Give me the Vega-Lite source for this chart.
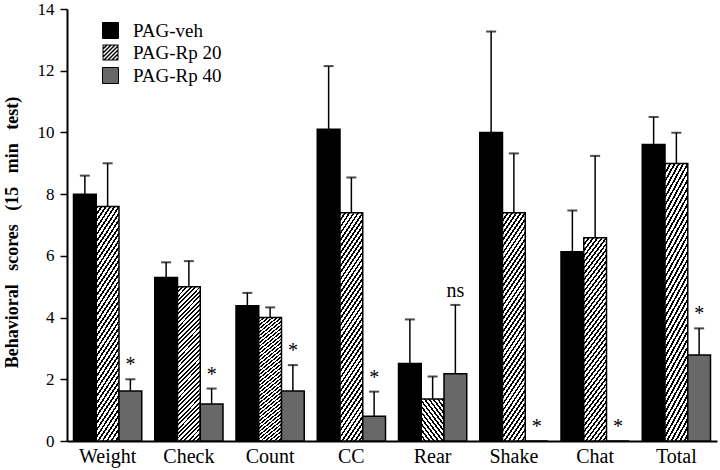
{
  "$schema": "https://vega.github.io/schema/vega-lite/v6.json",
  "width": 650,
  "height": 432,
  "autosize": {"type": "none"},
  "padding": {"left": 67, "top": 9, "right": 3, "bottom": 29},
  "background": "white",
  "config": {"font": "Liberation Serif", "view": {"stroke": null}},
  "data": {
    "values": [
      {"cat": "Weight", "group": "PAG-veh", "value": 8.0, "err": 8.6, "label": ""},
      {"cat": "Weight", "group": "PAG-Rp 20", "value": 7.6, "err": 9.0, "label": ""},
      {"cat": "Weight", "group": "PAG-Rp 40", "value": 1.62, "err": 2.0, "label": "*"},
      {"cat": "Check", "group": "PAG-veh", "value": 5.3, "err": 5.79, "label": ""},
      {"cat": "Check", "group": "PAG-Rp 20", "value": 5.0, "err": 5.83, "label": ""},
      {"cat": "Check", "group": "PAG-Rp 40", "value": 1.2, "err": 1.7, "label": "*"},
      {"cat": "Count", "group": "PAG-veh", "value": 4.38, "err": 4.8, "label": ""},
      {"cat": "Count", "group": "PAG-Rp 20", "value": 4.0, "err": 4.33, "label": ""},
      {"cat": "Count", "group": "PAG-Rp 40", "value": 1.62, "err": 2.46, "label": "*"},
      {"cat": "CC", "group": "PAG-veh", "value": 10.1, "err": 12.15, "label": ""},
      {"cat": "CC", "group": "PAG-Rp 20", "value": 7.4, "err": 8.54, "label": ""},
      {"cat": "CC", "group": "PAG-Rp 40", "value": 0.8, "err": 1.6, "label": "*"},
      {"cat": "Rear", "group": "PAG-veh", "value": 2.51, "err": 3.94, "label": ""},
      {"cat": "Rear", "group": "PAG-Rp 20", "value": 1.36, "err": 2.09, "label": ""},
      {"cat": "Rear", "group": "PAG-Rp 40", "value": 2.18, "err": 4.41, "label": "ns"},
      {"cat": "Shake", "group": "PAG-veh", "value": 10.0, "err": 13.27, "label": ""},
      {"cat": "Shake", "group": "PAG-Rp 20", "value": 7.4, "err": 9.32, "label": ""},
      {"cat": "Shake", "group": "PAG-Rp 40", "value": 0, "err": 0, "label": "*"},
      {"cat": "Chat", "group": "PAG-veh", "value": 6.13, "err": 7.47, "label": ""},
      {"cat": "Chat", "group": "PAG-Rp 20", "value": 6.59, "err": 9.24, "label": ""},
      {"cat": "Chat", "group": "PAG-Rp 40", "value": 0, "err": 0, "label": "*"},
      {"cat": "Total", "group": "PAG-veh", "value": 9.61, "err": 10.5, "label": ""},
      {"cat": "Total", "group": "PAG-Rp 20", "value": 8.99, "err": 9.99, "label": ""},
      {"cat": "Total", "group": "PAG-Rp 40", "value": 2.79, "err": 3.65, "label": "*"}
    ]
  },
  "encoding": {
    "x": {
      "field": "cat", "type": "nominal",
      "sort": ["Weight", "Check", "Count", "CC", "Rear", "Shake", "Chat", "Total"],
      "scale": {"paddingInner": 0.16, "paddingOuter": 0.08},
      "axis": {"title": null, "labelAngle": 0, "labelFontSize": 20, "labelFont": "Liberation Serif", "ticks": false, "labelPadding": 5, "domainWidth": 2, "domainColor": "#000", "labelColor": "#000"}
    },
    "xOffset": {
      "field": "group", "type": "nominal",
      "sort": ["PAG-veh", "PAG-Rp 20", "PAG-Rp 40"],
      "scale": {"paddingInner": 0, "paddingOuter": 0}
    }
  },
  "layer": [
    {
      "mark": {"type": "bar", "stroke": "#000", "strokeWidth": 1.5},
      "encoding": {
        "y": {
          "field": "value", "type": "quantitative",
          "scale": {"domain": [0, 14], "nice": false},
          "axis": {
            "values": [0, 1, 2, 3, 4, 5, 6, 7, 8, 9, 10, 11, 12, 13, 14],
            "labelExpr": "datum.value % 2 === 0 ? datum.label : ''",
            "tickSize": {"condition": {"test": "datum.value % 2 === 0", "value": 7}, "value": 4},
            "title": "Behavioral\u00a0\u00a0 scores\u00a0\u00a0 (15\u00a0\u00a0 min\u00a0\u00a0 test)",
            "titleFont": "Liberation Serif", "titleFontWeight": "bold", "titleFontSize": 18,
            "titleX": -55, "titleY": 223, "titleAngle": -90, "titleAlign": "center", "titleBaseline": "middle",
            "labelFontSize": 17, "labelFont": "Liberation Serif", "labelPadding": 6,
            "domainWidth": 2, "domainColor": "#000", "tickColor": "#000", "tickWidth": 1.5,
            "grid": false, "labelColor": "#000", "titleColor": "#000"
          }
        },
        "fill": {
          "condition": {"test": "datum.group === 'PAG-Rp 20'", "value": {"gradient": "linear", "x1": 0, "y1": 0, "x2": 0.1687, "y2": 1.1247, "stops": [
                {"offset": 0, "color": "#000"}, {"offset": 0.011, "color": "#000"}, {"offset": 0.011, "color": "#fff"}, {"offset": 0.025, "color": "#fff"},
                {"offset": 0.025, "color": "#000"}, {"offset": 0.036, "color": "#000"}, {"offset": 0.036, "color": "#fff"}, {"offset": 0.05, "color": "#fff"},
                {"offset": 0.05, "color": "#000"}, {"offset": 0.061, "color": "#000"}, {"offset": 0.061, "color": "#fff"}, {"offset": 0.075, "color": "#fff"},
                {"offset": 0.075, "color": "#000"}, {"offset": 0.086, "color": "#000"}, {"offset": 0.086, "color": "#fff"}, {"offset": 0.1, "color": "#fff"},
                {"offset": 0.1, "color": "#000"}, {"offset": 0.111, "color": "#000"}, {"offset": 0.111, "color": "#fff"}, {"offset": 0.125, "color": "#fff"},
                {"offset": 0.125, "color": "#000"}, {"offset": 0.136, "color": "#000"}, {"offset": 0.136, "color": "#fff"}, {"offset": 0.15, "color": "#fff"},
                {"offset": 0.15, "color": "#000"}, {"offset": 0.161, "color": "#000"}, {"offset": 0.161, "color": "#fff"}, {"offset": 0.175, "color": "#fff"},
                {"offset": 0.175, "color": "#000"}, {"offset": 0.186, "color": "#000"}, {"offset": 0.186, "color": "#fff"}, {"offset": 0.2, "color": "#fff"},
                {"offset": 0.2, "color": "#000"}, {"offset": 0.211, "color": "#000"}, {"offset": 0.211, "color": "#fff"}, {"offset": 0.225, "color": "#fff"},
                {"offset": 0.225, "color": "#000"}, {"offset": 0.236, "color": "#000"}, {"offset": 0.236, "color": "#fff"}, {"offset": 0.25, "color": "#fff"},
                {"offset": 0.25, "color": "#000"}, {"offset": 0.261, "color": "#000"}, {"offset": 0.261, "color": "#fff"}, {"offset": 0.275, "color": "#fff"},
                {"offset": 0.275, "color": "#000"}, {"offset": 0.286, "color": "#000"}, {"offset": 0.286, "color": "#fff"}, {"offset": 0.3, "color": "#fff"},
                {"offset": 0.3, "color": "#000"}, {"offset": 0.311, "color": "#000"}, {"offset": 0.311, "color": "#fff"}, {"offset": 0.325, "color": "#fff"},
                {"offset": 0.325, "color": "#000"}, {"offset": 0.336, "color": "#000"}, {"offset": 0.336, "color": "#fff"}, {"offset": 0.35, "color": "#fff"},
                {"offset": 0.35, "color": "#000"}, {"offset": 0.361, "color": "#000"}, {"offset": 0.361, "color": "#fff"}, {"offset": 0.375, "color": "#fff"},
                {"offset": 0.375, "color": "#000"}, {"offset": 0.386, "color": "#000"}, {"offset": 0.386, "color": "#fff"}, {"offset": 0.4, "color": "#fff"},
                {"offset": 0.4, "color": "#000"}, {"offset": 0.411, "color": "#000"}, {"offset": 0.411, "color": "#fff"}, {"offset": 0.425, "color": "#fff"},
                {"offset": 0.425, "color": "#000"}, {"offset": 0.436, "color": "#000"}, {"offset": 0.436, "color": "#fff"}, {"offset": 0.45, "color": "#fff"},
                {"offset": 0.45, "color": "#000"}, {"offset": 0.461, "color": "#000"}, {"offset": 0.461, "color": "#fff"}, {"offset": 0.475, "color": "#fff"},
                {"offset": 0.475, "color": "#000"}, {"offset": 0.486, "color": "#000"}, {"offset": 0.486, "color": "#fff"}, {"offset": 0.5, "color": "#fff"},
                {"offset": 0.5, "color": "#000"}, {"offset": 0.511, "color": "#000"}, {"offset": 0.511, "color": "#fff"}, {"offset": 0.525, "color": "#fff"},
                {"offset": 0.525, "color": "#000"}, {"offset": 0.536, "color": "#000"}, {"offset": 0.536, "color": "#fff"}, {"offset": 0.55, "color": "#fff"},
                {"offset": 0.55, "color": "#000"}, {"offset": 0.561, "color": "#000"}, {"offset": 0.561, "color": "#fff"}, {"offset": 0.575, "color": "#fff"},
                {"offset": 0.575, "color": "#000"}, {"offset": 0.586, "color": "#000"}, {"offset": 0.586, "color": "#fff"}, {"offset": 0.6, "color": "#fff"},
                {"offset": 0.6, "color": "#000"}, {"offset": 0.611, "color": "#000"}, {"offset": 0.611, "color": "#fff"}, {"offset": 0.625, "color": "#fff"},
                {"offset": 0.625, "color": "#000"}, {"offset": 0.636, "color": "#000"}, {"offset": 0.636, "color": "#fff"}, {"offset": 0.65, "color": "#fff"},
                {"offset": 0.65, "color": "#000"}, {"offset": 0.661, "color": "#000"}, {"offset": 0.661, "color": "#fff"}, {"offset": 0.675, "color": "#fff"},
                {"offset": 0.675, "color": "#000"}, {"offset": 0.686, "color": "#000"}, {"offset": 0.686, "color": "#fff"}, {"offset": 0.7, "color": "#fff"},
                {"offset": 0.7, "color": "#000"}, {"offset": 0.711, "color": "#000"}, {"offset": 0.711, "color": "#fff"}, {"offset": 0.725, "color": "#fff"},
                {"offset": 0.725, "color": "#000"}, {"offset": 0.736, "color": "#000"}, {"offset": 0.736, "color": "#fff"}, {"offset": 0.75, "color": "#fff"},
                {"offset": 0.75, "color": "#000"}, {"offset": 0.761, "color": "#000"}, {"offset": 0.761, "color": "#fff"}, {"offset": 0.775, "color": "#fff"},
                {"offset": 0.775, "color": "#000"}, {"offset": 0.786, "color": "#000"}, {"offset": 0.786, "color": "#fff"}, {"offset": 0.8, "color": "#fff"},
                {"offset": 0.8, "color": "#000"}, {"offset": 0.811, "color": "#000"}, {"offset": 0.811, "color": "#fff"}, {"offset": 0.825, "color": "#fff"},
                {"offset": 0.825, "color": "#000"}, {"offset": 0.836, "color": "#000"}, {"offset": 0.836, "color": "#fff"}, {"offset": 0.85, "color": "#fff"},
                {"offset": 0.85, "color": "#000"}, {"offset": 0.861, "color": "#000"}, {"offset": 0.861, "color": "#fff"}, {"offset": 0.875, "color": "#fff"},
                {"offset": 0.875, "color": "#000"}, {"offset": 0.886, "color": "#000"}, {"offset": 0.886, "color": "#fff"}, {"offset": 0.9, "color": "#fff"},
                {"offset": 0.9, "color": "#000"}, {"offset": 0.911, "color": "#000"}, {"offset": 0.911, "color": "#fff"}, {"offset": 0.925, "color": "#fff"},
                {"offset": 0.925, "color": "#000"}, {"offset": 0.936, "color": "#000"}, {"offset": 0.936, "color": "#fff"}, {"offset": 0.95, "color": "#fff"},
                {"offset": 0.95, "color": "#000"}, {"offset": 0.961, "color": "#000"}, {"offset": 0.961, "color": "#fff"}, {"offset": 0.975, "color": "#fff"},
                {"offset": 0.975, "color": "#000"}, {"offset": 0.986, "color": "#000"}, {"offset": 0.986, "color": "#fff"}, {"offset": 1, "color": "#fff"}
              ]}},
          "field": "group", "type": "nominal",
          "sort": ["PAG-veh", "PAG-Rp 20", "PAG-Rp 40"],
          "scale": {
            "domain": ["PAG-veh", "PAG-Rp 20", "PAG-Rp 40"],
            "range": ["#000000", "#000000", "#686868"]
          },
          "legend": {
            "orient": "none", "legendX": 34, "legendY": 12, "title": null,
            "symbolType": "square", "symbolSize": 256,
            "symbolStrokeColor": "#000", "symbolStrokeWidth": 1,
            "labelFontSize": 19, "labelFont": "Liberation Serif", "labelColor": "#000",
            "rowPadding": 2, "labelOffset": 13,
            "encode": {
              "symbols": {
                "update": {
                  "stroke": {"value": "#000"},
                  "strokeWidth": {"signal": "datum.value === 'PAG-Rp 20' ? 0 : 1"},
                  "shape": {"signal": "datum.value === 'PAG-Rp 20' ? 'M-1,-1H1V1H-1Z M-0.875,-0.875V0.875H0.875V-0.875Z M-1,-1L-0.75,-1L-1,-0.75Z M-1,-0.5L-0.5,-1L-0.25,-1L-1,-0.25Z M-1,0L0,-1L0.25,-1L-1,0.25Z M-1,0.5L0.5,-1L0.75,-1L-1,0.75Z M-1,1L1,-1L1,-0.75L-0.75,1Z M-0.5,1L1,-0.5L1,-0.25L-0.25,1Z M0,1L1,0L1,0.25L0.25,1Z M0.5,1L1,0.5L1,0.75L0.75,1Z' : 'square'"}
                }
              }
            }
          }
        }
      }
    },
    {
      "transform": [{"filter": "datum.err > datum.value"}],
      "mark": {"type": "rule", "strokeWidth": 1.5, "color": "#000"},
      "encoding": {
        "y": {"field": "value", "type": "quantitative"},
        "y2": {"field": "err"}
      }
    },
    {
      "transform": [{"filter": "datum.err > datum.value"}],
      "mark": {"type": "tick", "color": "#000", "size": 10, "thickness": 2},
      "encoding": {
        "y": {"field": "err", "type": "quantitative"}
      }
    },
    {
      "transform": [{"filter": "datum.label !== ''"}],
      "mark": {"type": "text", "fontSize": 20, "font": "Liberation Serif", "dy": -8, "baseline": "alphabetic", "color": "#000"},
      "encoding": {
        "y": {"field": "err", "type": "quantitative"},
        "text": {"field": "label"}
      }
    }
  ]
}
